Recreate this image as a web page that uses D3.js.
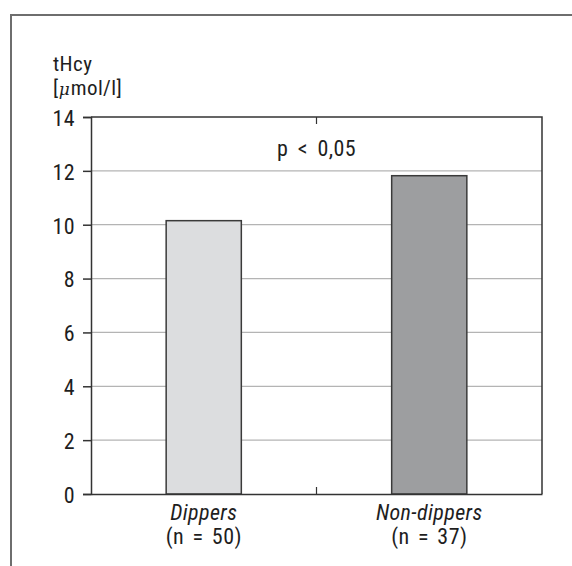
<!DOCTYPE html>
<html><head><meta charset="utf-8">
<script src="https://cdn.jsdelivr.net/npm/d3@7"></script>
<style>
body{margin:0;background:#fff;}
svg{display:block;}
text{font-family:"Roboto Condensed","Liberation Sans Narrow","Arial Narrow",sans-serif;fill:#1e1e1e;letter-spacing:0.4px;}
</style></head><body>
<svg id="chart" width="572" height="566"></svg>
<script>
const categories = ["Dippers", "Non-dippers"];
const nLabels = ["(n = 50)", "(n = 37)"];
const values = [10.15, 11.82];
const barColors = ["#dcdddf", "#9d9ea0"];
const yTicks = [0, 2, 4, 6, 8, 10, 12, 14];
const yTitle = ["tHcy", "[μmol/l]"];
const annotation = "p < 0,05";

const svg = d3.select("#chart");
const m = {left: 91, right: 542, top: 117, bottom: 494};
const FS = "22px";
const FF = '"Roboto Condensed","Liberation Sans Narrow","Arial Narrow",sans-serif';

// outer frame
svg.append("path").attr("d", "M11,566 V15 H572").attr("fill","none").attr("stroke","#6e6e6e").attr("stroke-width",2);

const x = d3.scaleBand().domain(categories).range([m.left, m.right]).paddingInner(0.6667).paddingOuter(0.3333);
const y = d3.scaleLinear().domain([0, 14]).range([m.bottom, m.top]);

// gridlines
svg.append("g").selectAll("line").data(yTicks.filter(d => d > 0 && d < 14)).join("line")
  .attr("x1", m.left).attr("x2", m.right).attr("y1", d => y(d)).attr("y2", d => y(d))
  .attr("stroke", "#b4b4b4").attr("stroke-width", 1.2);

// bars
svg.append("g").selectAll("rect").data(values).join("rect")
  .attr("x", (d,i) => x(categories[i])).attr("width", x.bandwidth())
  .attr("y", d => y(d)).attr("height", d => y(0) - y(d))
  .attr("fill", (d,i) => barColors[i]).attr("stroke", "#3a3a3a").attr("stroke-width", 1.5);

// top & right border
svg.append("path").attr("d", `M${m.left},${m.top} H${m.right} V${m.bottom}`).attr("fill","none").attr("stroke","#333").attr("stroke-width",1.5);

// y axis
const yAxis = svg.append("g").attr("transform", `translate(${m.left},0)`)
  .call(d3.axisLeft(y).tickValues(yTicks).tickSize(8).tickPadding(8).tickFormat(d3.format("d")));
yAxis.select(".domain").attr("stroke","#333").attr("stroke-width",1.5);
yAxis.selectAll(".tick line").attr("stroke","#333").attr("stroke-width",1.5);
yAxis.selectAll("text").attr("dy","0.38em").style("font-size",FS).attr("fill","#1e1e1e").style("font-family",FF);

// x axis baseline + mid tick
const xAxis = svg.append("g").attr("transform", `translate(0,${m.bottom})`)
  .call(d3.axisBottom(x).tickSize(0).tickFormat(""));
xAxis.select(".domain").attr("stroke","#333").attr("stroke-width",1.5);
const mid = (x(categories[0]) + x.bandwidth() + x(categories[1])) / 2;
svg.append("line").attr("x1", mid).attr("x2", mid).attr("y1", m.bottom).attr("y2", m.bottom - 7).attr("stroke","#333").attr("stroke-width",1.2);
svg.append("line").attr("x1", mid).attr("x2", mid).attr("y1", m.top).attr("y2", m.top + 7).attr("stroke","#333").attr("stroke-width",1.2);

// category labels
categories.forEach((c, i) => {
  const cx = x(c) + x.bandwidth()/2;
  svg.append("text").attr("x", cx).attr("y", 520).attr("text-anchor","middle")
    .style("font-size",FS).style("font-style","italic").text(c);
  svg.append("text").attr("x", cx).attr("y", 544).attr("text-anchor","middle")
    .style("font-size",FS).style("word-spacing","3px").text(nLabels[i]);
});

// y title
svg.append("text").attr("x", 53).attr("y", 71).style("font-size","21px").text(yTitle[0]);
const t2 = svg.append("text").attr("x", 53).attr("y", 95).style("font-size","21px");
t2.append("tspan").text("[");
t2.append("tspan").style("font-style","italic").style("font-family","'DejaVu Serif',serif").style("font-size","17px").style("letter-spacing","1px").text("μ");
t2.append("tspan").text("mol/l]");

// annotation
svg.append("text").attr("x", mid).attr("y", 156).attr("text-anchor","middle").style("font-size",FS).style("word-spacing","4px").text(annotation);
</script></body></html>
